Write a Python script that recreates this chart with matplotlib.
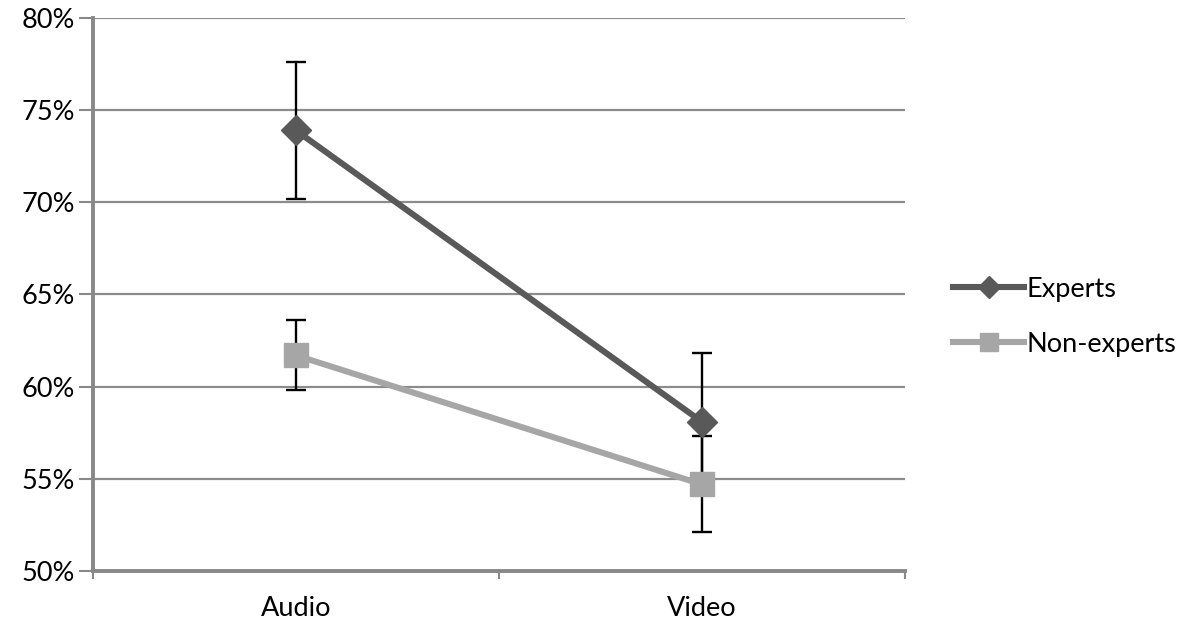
import matplotlib.pyplot as plt
from matplotlib.ticker import FuncFormatter

categories = ["Audio", "Video"]
experts = [73.9, 58.1]
experts_err = [3.7, 3.7]
non_experts = [61.7, 54.7]
non_experts_err = [1.9, 2.6]

plt.rcParams['font.family'] = ['Lato', 'DejaVu Sans']

fig = plt.figure(figsize=(11.92, 6.29), dpi=100)
ax = fig.add_axes([0.078, 0.0922, 0.681, 0.8792])

x = [0.5, 1.5]
ax.errorbar(x, experts, yerr=experts_err, fmt='none', ecolor='black',
            elinewidth=1.7, capsize=7, capthick=1.7, zorder=3)
ax.errorbar(x, non_experts, yerr=non_experts_err, fmt='none', ecolor='black',
            elinewidth=1.7, capsize=7, capthick=1.7, zorder=3)
ax.plot(x, experts, color='#595959', lw=4.4, marker='D', markersize=15,
        label='Experts', zorder=4)
ax.plot(x, non_experts, color='#a6a6a6', lw=4.4, marker='s', markersize=17,
        label='Non-experts', zorder=4)

ax.set_xlim(0, 2)
ax.set_ylim(50, 80)
ax.set_yticks(range(50, 81, 5))
ax.yaxis.set_major_formatter(FuncFormatter(lambda v, p: f"{v:.0f}%"))
ax.set_xticks([0, 1, 2])
ax.set_xticklabels([])
ax.set_xticks(x, minor=True)
ax.set_xticklabels(categories, minor=True)
ax.tick_params(axis='x', which='minor', length=0, pad=18, labelsize=19.5)
ax.tick_params(axis='x', which='major', length=6, width=1.5, color='#888888',
               direction='out')
ax.tick_params(axis='y', length=10, width=1.5, color='#888888', labelsize=19.5,
               pad=3)

ax.grid(axis='y', color='#8c8c8c', lw=1.6, zorder=0)
ax.set_axisbelow(True)
for s in ['top', 'right']:
    ax.spines[s].set_visible(False)
for s in ['left', 'bottom']:
    ax.spines[s].set_color('#888888')
    ax.spines[s].set_linewidth(2.8)

ax.legend(loc='center left', bbox_to_anchor=(1.03, 0.46), frameon=False,
          fontsize=19.5, handlelength=2.6, handletextpad=0.1, labelspacing=1.1,
          markerscale=0.75)

fig.savefig('out.png', dpi=100)
